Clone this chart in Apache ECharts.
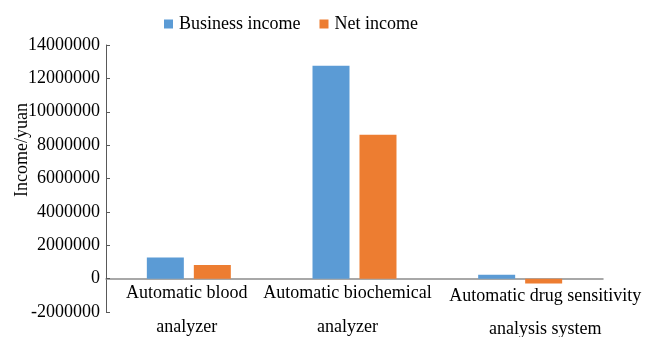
<!DOCTYPE html>
<html>
<head>
<meta charset="utf-8">
<script src="https://cdn.jsdelivr.net/npm/echarts@6/dist/echarts.min.js"></script>
<style>
html,body{margin:0;padding:0;background:#fff;}
#chart{width:656px;height:337px;}
</style>
</head>
<body>
<div id="chart"></div>
<script>
var categories = ['Automatic blood analyzer', 'Automatic biochemical analyzer', 'Automatic drug sensitivity analysis system'];
var labelLine1 = ['Automatic blood', 'Automatic biochemical', 'Automatic drug sensitivity'];
var labelLine2 = ['analyzer', 'analyzer', 'analysis system'];
var businessIncome = [1270000, 12750000, 230000];
var netIncome = [810000, 8620000, -290000];
var seriesNames = ['Business income', 'Net income'];
var yAxisName = 'Income/yuan';

var FONT = '"Liberation Serif", "Times New Roman", "DejaVu Serif", serif';
var chart = echarts.init(document.getElementById('chart'), null, {renderer: 'canvas'});
chart.setOption({
  animation: false,
  textStyle: {fontFamily: FONT, color: '#000'},
  legend: {
    data: seriesNames,
    left: 159,
    top: 10,
    icon: 'rect',
    itemWidth: 9,
    itemHeight: 9,
    itemGap: 19,
    textStyle: {fontFamily: FONT, fontSize: 18, color: '#000', padding: [0, 0, 0, 1]}
  },
  grid: {left: 106, right: 53, top: 45, bottom: 25, containLabel: false, outerBoundsMode: 'none'},
  graphic: [{
    type: 'text',
    rotation: Math.PI / 2,
    position: [13, 197],
    style: {text: yAxisName, fontFamily: FONT, fontSize: 18, fill: '#000'}
  }],
  xAxis: {
    type: 'category',
    data: categories,
    axisLine: {onZero: true, lineStyle: {color: '#8c8c8c', width: 1.5}},
    axisTick: {show: false},
    axisLabel: {
      interval: 0,
      margin: -30,
      fontFamily: FONT,
      fontSize: 18,
      formatter: function (v, i) {
        if (i === 2) return '{c1|' + labelLine1[i] + '}\n{c2|' + labelLine2[i] + '}';
        if (i === 1) return '{b1|' + labelLine1[i] + '}\n{b2|' + labelLine2[i] + '}';
        return '{a1|' + labelLine1[i] + '}\n{a2|' + labelLine2[i] + '}';
      },
      rich: {
        a1: {fontFamily: FONT, fontSize: 18, color: '#000', lineHeight: 22, padding: [0, 4, 0, 0]},
        a2: {fontFamily: FONT, fontSize: 18, color: '#000', lineHeight: 46, padding: [0, 4, 0, 0]},
        b1: {fontFamily: FONT, fontSize: 18, color: '#000', lineHeight: 22, padding: [0, 14, 0, 0]},
        b2: {fontFamily: FONT, fontSize: 18, color: '#000', lineHeight: 46, padding: [0, 14, 0, 0]},
        c1: {fontFamily: FONT, fontSize: 18, color: '#000', lineHeight: 28, padding: [0, 0, 0, 50]},
        c2: {fontFamily: FONT, fontSize: 18, color: '#000', lineHeight: 38, padding: [0, 0, 0, 50]}
      }
    }
  },
  yAxis: {
    type: 'value',
    min: -2000000,
    max: 14000000,
    interval: 2000000,
    splitLine: {show: false},
    axisLine: {show: true, lineStyle: {color: '#595959', width: 1}},
    axisTick: {show: true, inside: true, length: 4, lineStyle: {color: '#595959'}},
    axisLabel: {fontFamily: FONT, fontSize: 18, color: '#000', margin: 6,
      formatter: function (v) { return String(v); }}
  },
  series: [
    {name: seriesNames[0], type: 'bar', data: businessIncome, barWidth: 37, barGap: '27%', itemStyle: {color: '#5B9BD5'}},
    {name: seriesNames[1], type: 'bar', data: netIncome, barWidth: 37, barGap: '27%', itemStyle: {color: '#ED7D31'}}
  ]
});
</script>
</body>
</html>
